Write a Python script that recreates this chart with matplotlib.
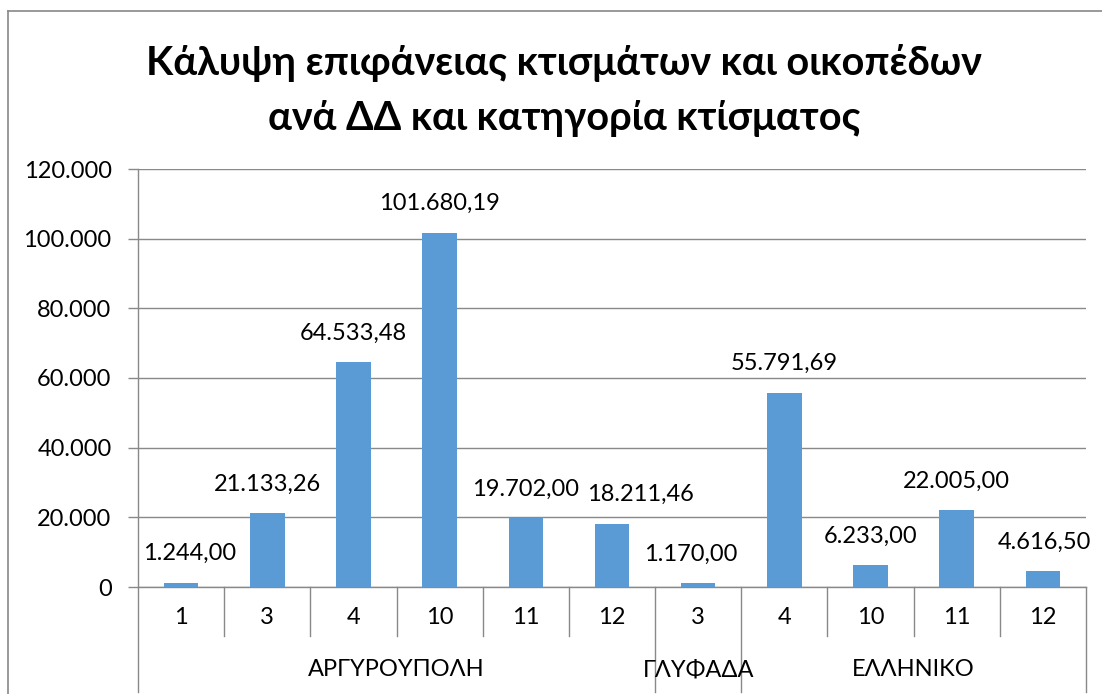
import matplotlib.pyplot as plt
from matplotlib.lines import Line2D
from matplotlib.transforms import blended_transform_factory

plt.rcParams['font.family'] = ['Lato', 'DejaVu Sans']

# data
groups = ['ΑΡΓΥΡΟΥΠΟΛΗ', 'ΓΛΥΦΑΔΑ', 'ΕΛΛΗΝΙΚΟ']
group_sizes = [6, 1, 4]
categories = ['1', '3', '4', '10', '11', '12', '3', '4', '10', '11', '12']
values = [1244.00, 21133.26, 64533.48, 101680.19, 19702.00, 18211.46,
          1170.00, 55791.69, 6233.00, 22005.00, 4616.50]
yticks = [0, 20000, 40000, 60000, 80000, 100000, 120000]
# horizontal nudges (px) of the data labels, as Excel placed them
label_dx = [8, 0, 0, 0, 0, 28, -7, 0, 0, 0, 2]


def gr(v, dec):
    s = f"{v:,.{dec}f}"
    return s.replace(',', 'X').replace('.', ',').replace('X', '.')


W, H = 1102, 694
fig = plt.figure(figsize=(W / 100, H / 100), dpi=100)
ax = fig.add_axes([138 / W, 1 - 587 / H, (1086 - 138) / W, (587 - 169) / H])

grid_c = '#898989'
fs = 17
x = list(range(len(values)))
ax.bar(x, values, width=0.4, color='#5B9BD5', zorder=3)
for xi, v, dx in zip(x, values, label_dx):
    ax.annotate(gr(v, 2), (xi, v), xytext=(dx * 0.72, 29 * 0.72), textcoords='offset points',
                ha='center', va='center', fontsize=fs, color='black')

ax.set_xlim(-0.5, len(values) - 0.5)
ax.set_ylim(0, 120000)
ax.set_yticks(yticks)
ax.set_yticklabels([gr(t, 0) for t in yticks], fontsize=fs)
ax.tick_params(axis='y', length=7, color=grid_c, width=1, pad=12)
ax.set_xticks([])
ax.grid(axis='y', color=grid_c, linewidth=1, zorder=0)
for s in ['top', 'right']:
    ax.spines[s].set_visible(False)
for s in ['left', 'bottom']:
    ax.spines[s].set_color(grid_c)
    ax.spines[s].set_linewidth(1)

# multi-level category axis
tr = blended_transform_factory(ax.transData, ax.transAxes)
h_ax = (587 - 169)
inner_low = -(636 - 587) / h_ax
outer_low = -(692 - 587) / h_ax
inner_y = -(618 - 587) / h_ax
outer_y = -(670 - 587) / h_ax
bounds = [-0.5]
for n in group_sizes:
    bounds.append(bounds[-1] + n)
for i in range(len(values) + 1):
    b = i - 0.5
    low = outer_low if b in bounds else inner_low
    ax.plot([b, b], [0, low], transform=tr, color=grid_c, lw=1, clip_on=False)
for xi, c in zip(x, categories):
    ax.text(xi, inner_y, c, transform=tr, ha='center', va='center', fontsize=fs)
for g, a, b in zip(groups, bounds[:-1], bounds[1:]):
    ax.text((a + b) / 2, outer_y, g, transform=tr, ha='center', va='center', fontsize=fs)

fig.suptitle('Κάλυψη επιφάνειας κτισμάτων και οικοπέδων\nανά ΔΔ και κατηγορία κτίσματος',
             x=564 / W, y=1 - 44 / H, va='top', fontsize=28.5, fontweight='bold',
             linespacing=1.6)

# chart border (left and top only visible)
fig.lines.append(Line2D([8 / W, 8 / W], [0, 1 - 11 / H], transform=fig.transFigure,
                        color='#888888', lw=1.2))
fig.lines.append(Line2D([8 / W, 1], [1 - 11 / H, 1 - 11 / H], transform=fig.transFigure,
                        color='#888888', lw=1.2))

fig.savefig('out.png', dpi=100)
